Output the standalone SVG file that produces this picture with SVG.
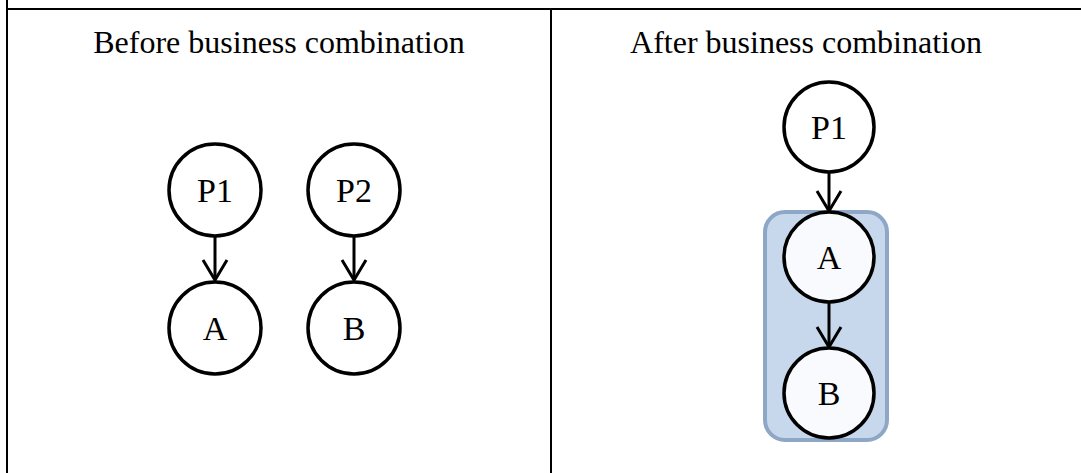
<svg xmlns="http://www.w3.org/2000/svg" width="1081" height="473" viewBox="0 0 1081 473">
<style>
.frame{stroke:#000;stroke-width:2;fill:none}
.title{font-family:"Liberation Serif","Times New Roman",serif;font-size:32px;fill:#000;text-anchor:middle}
.node circle{stroke:#000;stroke-width:3.5;fill:#fff}
.node.in circle{fill:#f8fafd}
.node text{font-family:"Liberation Serif","Times New Roman",serif;font-size:34px;fill:#000;text-anchor:middle}
.edge{stroke:#000;stroke-width:3;fill:none}
.head{stroke:#000;stroke-width:3;fill:none;stroke-linejoin:miter;stroke-linecap:butt}
</style>
<rect width="1081" height="473" fill="#fff"/>
<g id="frame">
<line class="frame" x1="7" y1="9" x2="1081" y2="9"/>
<line class="frame" x1="7" y1="0" x2="7" y2="473"/>
<line class="frame" x1="551" y1="9" x2="551" y2="473"/>
</g>
<text class="title" x="279" y="53">Before business combination</text>
<text class="title" x="806" y="53">After business combination</text>
<g id="group-AB">
<rect x="765" y="212" width="122" height="228" rx="20" ry="20" fill="#c8d8ec" stroke="#8ea7c7" stroke-width="4"/>
</g>
<g id="connectors">
<line class="edge" x1="215" y1="237" x2="215" y2="279"/>
<path class="head" d="M203,260 L215,280 L227,260"/>
<line class="edge" x1="354" y1="237" x2="354" y2="279"/>
<path class="head" d="M342,260 L354,280 L366,260"/>
<line class="edge" x1="829" y1="172" x2="829" y2="210"/>
<path class="head" d="M817,191 L829,211 L841,191"/>
<line class="edge" x1="829" y1="302" x2="829" y2="346"/>
<path class="head" d="M817,327 L829,347 L841,327"/>
</g>
<g id="node-P1-left" class="node"><circle cx="215" cy="190" r="46"/><text x="215" y="202">P1</text></g>
<g id="node-A-left" class="node"><circle cx="215" cy="328" r="46"/><text x="215" y="340">A</text></g>
<g id="node-P2" class="node"><circle cx="354" cy="190" r="46"/><text x="354" y="202">P2</text></g>
<g id="node-B-left" class="node"><circle cx="354" cy="328" r="46"/><text x="354" y="340">B</text></g>
<g id="node-P1-right" class="node"><circle cx="829" cy="127" r="45"/><text x="829" y="139">P1</text></g>
<g id="node-A-right" class="node in"><circle cx="829" cy="257" r="45"/><text x="829" y="269">A</text></g>
<g id="node-B-right" class="node in"><circle cx="829" cy="393" r="45"/><text x="829" y="405">B</text></g>
</svg>
